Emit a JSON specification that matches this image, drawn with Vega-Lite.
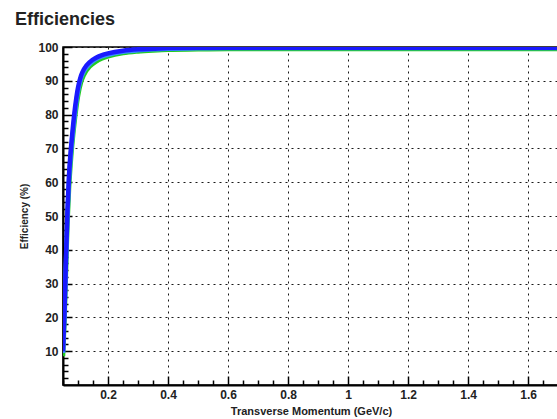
{
  "$schema": "https://vega.github.io/schema/vega-lite/v6.json",
  "width": 496,
  "height": 338,
  "autosize": {"type": "none"},
  "padding": {"left": 63, "top": 47, "right": 0, "bottom": 34},
  "background": "white",
  "title": {"text": "Efficiencies", "anchor": "start", "frame": "group", "dx": -48, "offset": 12, "font": "Liberation Sans", "fontSize": 18, "fontWeight": "bold", "color": "#222"},
  "config": {
    "view": {"stroke": "black", "strokeWidth": 1.5},
    "axis": {"labelFont": "Liberation Sans", "titleFont": "Liberation Sans", "labelFontWeight": "bold", "titleFontWeight": "bold", "labelColor": "#222", "titleColor": "#222", "domainColor": "black", "tickColor": "black"}
  },
  "data": {"values": [
    {"pt": 0.05, "eff": 8.5, "s": "a"}, {"pt": 0.055, "eff": 19, "s": "a"}, {"pt": 0.06, "eff": 34, "s": "a"}, {"pt": 0.065, "eff": 48, "s": "a"}, {"pt": 0.07, "eff": 58, "s": "a"}, {"pt": 0.075, "eff": 65, "s": "a"}, {"pt": 0.08, "eff": 70.5, "s": "a"}, {"pt": 0.09, "eff": 79, "s": "a"}, {"pt": 0.1, "eff": 85.5, "s": "a"}, {"pt": 0.11, "eff": 89.5, "s": "a"}, {"pt": 0.12, "eff": 91.8, "s": "a"}, {"pt": 0.14, "eff": 94.3, "s": "a"}, {"pt": 0.16, "eff": 95.7, "s": "a"}, {"pt": 0.18, "eff": 96.6, "s": "a"}, {"pt": 0.2, "eff": 97.2, "s": "a"}, {"pt": 0.25, "eff": 98.2, "s": "a"}, {"pt": 0.3, "eff": 98.7, "s": "a"}, {"pt": 0.35, "eff": 99.0, "s": "a"}, {"pt": 0.4, "eff": 99.2, "s": "a"}, {"pt": 0.5, "eff": 99.3, "s": "a"}, {"pt": 0.6, "eff": 99.4, "s": "a"}, {"pt": 0.8, "eff": 99.4, "s": "a"}, {"pt": 1.0, "eff": 99.4, "s": "a"}, {"pt": 1.2, "eff": 99.4, "s": "a"}, {"pt": 1.4, "eff": 99.4, "s": "a"}, {"pt": 1.6, "eff": 99.4, "s": "a"}, {"pt": 1.7, "eff": 99.4, "s": "a"},
    {"pt": 0.05, "eff": 9.5, "s": "b"}, {"pt": 0.055, "eff": 21, "s": "b"}, {"pt": 0.06, "eff": 36.5, "s": "b"}, {"pt": 0.065, "eff": 50.5, "s": "b"}, {"pt": 0.07, "eff": 60.5, "s": "b"}, {"pt": 0.075, "eff": 67, "s": "b"}, {"pt": 0.08, "eff": 72, "s": "b"}, {"pt": 0.09, "eff": 80.5, "s": "b"}, {"pt": 0.1, "eff": 87, "s": "b"}, {"pt": 0.11, "eff": 90.8, "s": "b"}, {"pt": 0.12, "eff": 92.9, "s": "b"}, {"pt": 0.14, "eff": 95.1, "s": "b"}, {"pt": 0.16, "eff": 96.4, "s": "b"}, {"pt": 0.18, "eff": 97.2, "s": "b"}, {"pt": 0.2, "eff": 97.7, "s": "b"}, {"pt": 0.25, "eff": 98.6, "s": "b"}, {"pt": 0.3, "eff": 99.0, "s": "b"}, {"pt": 0.35, "eff": 99.3, "s": "b"}, {"pt": 0.4, "eff": 99.5, "s": "b"}, {"pt": 0.5, "eff": 99.6, "s": "b"}, {"pt": 0.6, "eff": 99.7, "s": "b"}, {"pt": 0.8, "eff": 99.7, "s": "b"}, {"pt": 1.0, "eff": 99.7, "s": "b"}, {"pt": 1.2, "eff": 99.7, "s": "b"}, {"pt": 1.4, "eff": 99.7, "s": "b"}, {"pt": 1.6, "eff": 99.7, "s": "b"}, {"pt": 1.7, "eff": 99.7, "s": "b"},
    {"pt": 0.05, "eff": 10, "s": "c"}, {"pt": 0.055, "eff": 22, "s": "c"}, {"pt": 0.06, "eff": 38, "s": "c"}, {"pt": 0.065, "eff": 52, "s": "c"}, {"pt": 0.07, "eff": 62, "s": "c"}, {"pt": 0.075, "eff": 68.5, "s": "c"}, {"pt": 0.08, "eff": 73.5, "s": "c"}, {"pt": 0.09, "eff": 82, "s": "c"}, {"pt": 0.1, "eff": 88, "s": "c"}, {"pt": 0.11, "eff": 91.5, "s": "c"}, {"pt": 0.12, "eff": 93.5, "s": "c"}, {"pt": 0.14, "eff": 95.6, "s": "c"}, {"pt": 0.16, "eff": 96.8, "s": "c"}, {"pt": 0.18, "eff": 97.6, "s": "c"}, {"pt": 0.2, "eff": 98.1, "s": "c"}, {"pt": 0.25, "eff": 98.9, "s": "c"}, {"pt": 0.3, "eff": 99.3, "s": "c"}, {"pt": 0.35, "eff": 99.5, "s": "c"}, {"pt": 0.4, "eff": 99.7, "s": "c"}, {"pt": 0.5, "eff": 99.8, "s": "c"}, {"pt": 0.6, "eff": 99.8, "s": "c"}, {"pt": 0.8, "eff": 99.8, "s": "c"}, {"pt": 1.0, "eff": 99.8, "s": "c"}, {"pt": 1.2, "eff": 99.8, "s": "c"}, {"pt": 1.4, "eff": 99.8, "s": "c"}, {"pt": 1.6, "eff": 99.8, "s": "c"}, {"pt": 1.7, "eff": 99.8, "s": "c"}
  ]},
  "layer": [
    {
      "mark": {"type": "line", "strokeWidth": 4.5, "interpolate": "monotone", "clip": true},
      "encoding": {
        "x": {"field": "pt", "type": "quantitative", "scale": {"domain": [0.05, 1.703], "nice": false, "zero": false},
          "axis": {"orient": "bottom", "values": [0.2, 0.4, 0.6, 0.8, 1.0, 1.2, 1.4, 1.6], "format": "~g", "title": "Transverse Momentum (GeV/c)", "titleFontSize": 11, "titlePadding": 5, "labelFontSize": 12, "labelPadding": 13, "domainWidth": 2, "tickSize": -9, "tickWidth": 1.5, "grid": true, "gridColor": "black", "gridDash": [2, 4], "gridWidth": 1, "gridOpacity": 0.9}},
        "y": {"field": "eff", "type": "quantitative", "scale": {"domain": [0, 100], "nice": false},
          "axis": {"orient": "left", "values": [10, 20, 30, 40, 50, 60, 70, 80, 90, 100], "title": "Efficiency (%)", "titleFontSize": 10, "titlePadding": 8, "labelFontSize": 12, "labelPadding": 14, "domainWidth": 2, "tickSize": -9, "tickWidth": 1.5, "grid": true, "gridColor": "black", "gridDash": [2, 4], "gridWidth": 1, "gridOpacity": 0.9}},
        "color": {"field": "s", "type": "nominal", "scale": {"domain": ["a", "b", "c"], "range": ["#22cc22", "#3a8cff", "#1a1aff"]}, "legend": null},
        "order": {"field": "s"}
      }
    },
    {
      "mark": {"type": "point", "opacity": 0},
      "encoding": {
        "x": {"field": "pt", "type": "quantitative",
          "axis": {"orient": "bottom", "values": [0.05, 0.1, 0.15, 0.25, 0.3, 0.35, 0.45, 0.5, 0.55, 0.65, 0.7, 0.75, 0.85, 0.9, 0.95, 1.05, 1.1, 1.15, 1.25, 1.3, 1.35, 1.45, 1.5, 1.55, 1.65, 1.7], "labels": false, "title": null, "domain": false, "grid": false, "tickSize": -5, "tickWidth": 1.5}},
        "y": {"field": "eff", "type": "quantitative",
          "axis": {"orient": "left", "values": [2, 4, 6, 8, 12, 14, 16, 18, 22, 24, 26, 28, 32, 34, 36, 38, 42, 44, 46, 48, 52, 54, 56, 58, 62, 64, 66, 68, 72, 74, 76, 78, 82, 84, 86, 88, 92, 94, 96, 98], "labels": false, "title": null, "domain": false, "grid": false, "tickSize": -5, "tickWidth": 1.5}}
      }
    }
  ],
  "resolve": {"axis": {"x": "independent", "y": "independent"}}
}
